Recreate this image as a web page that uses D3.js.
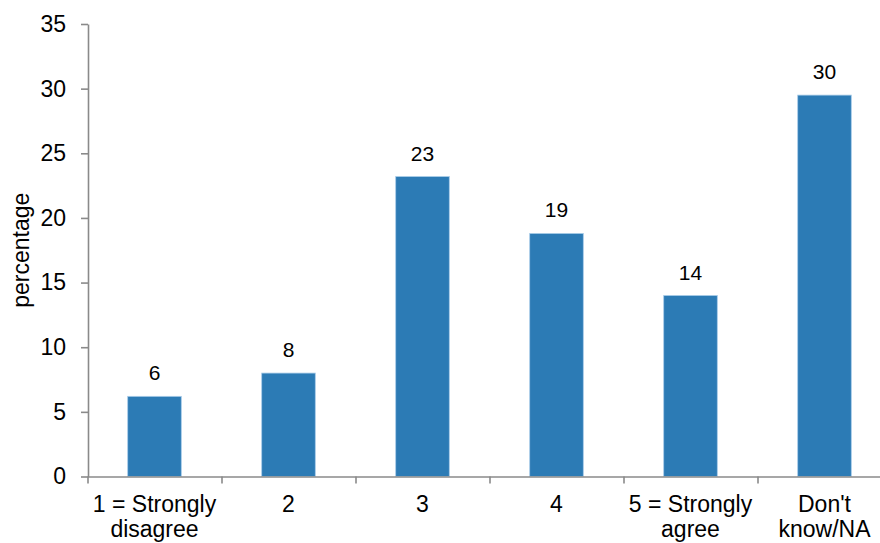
<!DOCTYPE html>
<html>
<head>
<meta charset="utf-8">
<script src="https://cdn.jsdelivr.net/npm/d3@7/dist/d3.min.js"></script>
<style>
  html, body { margin: 0; padding: 0; background: #ffffff; }
  svg { display: block; font-family: "Liberation Sans", Arial, sans-serif; }
</style>
</head>
<body>
<svg id="chart" width="880" height="543"></svg>
<script>
// Survey responses (percentage of respondents)
const categories = ["1 = Strongly\ndisagree", "2", "3", "4", "5 = Strongly\nagree", "Don't\nknow/NA"];
const values = [6.2, 8.0, 23.2, 18.8, 14.0, 29.5];
const yTicks = [0, 5, 10, 15, 20, 25, 30, 35];
const yTitle = "percentage";

const svg = d3.select("#chart");
const left = 87.5, step = 134;
const yBottom = 476.5, yTop = 24;

const x = d3.scaleBand()
  .domain(d3.range(categories.length))
  .range([left, left + step * categories.length])
  .padding(0);

// boundary scale used for the category separator ticks
const xEdge = d3.scaleLinear()
  .domain([0, categories.length])
  .range([left, left + step * categories.length]);

const y = d3.scaleLinear().domain([0, 35]).range([yBottom, yTop]);

const axisColor = "#8a8a8a";
const barFill = "#2c7bb5";
const barEdge = "#a9cce8";

// Bars
const barW = x.bandwidth() * 0.4;
svg.append("g").selectAll("rect")
  .data(values)
  .join("rect")
  .attr("x", (d, i) => x(i) + (x.bandwidth() - barW) / 2)
  .attr("y", d => y(d))
  .attr("width", barW)
  .attr("height", d => y(0) - y(d))
  .attr("fill", barFill)
  .attr("stroke", barEdge)
  .attr("stroke-width", 0.8);

// Value labels
svg.append("g").selectAll("text")
  .data(values)
  .join("text")
  .attr("x", (d, i) => x(i) + x.bandwidth() / 2)
  .attr("y", d => y(d) - 16)
  .attr("text-anchor", "middle")
  .attr("font-size", 21)
  .attr("fill", "#000")
  .text(d => d3.format(".0f")(d));

// Y axis
const yAxis = svg.append("g")
  .attr("transform", `translate(${left + 0.5},0)`)
  .call(d3.axisLeft(y).tickValues(yTicks).tickSize(7).tickPadding(15).tickSizeOuter(0));
yAxis.select(".domain").attr("stroke", axisColor).attr("stroke-width", 1.6);
yAxis.selectAll(".tick line").attr("stroke", axisColor).attr("stroke-width", 1.6);
yAxis.selectAll(".tick text")
  .attr("font-size", 23)
  .attr("fill", "#000")
  .attr("font-family", "Liberation Sans, Arial, sans-serif");

// X axis with separator ticks at category boundaries
const xAxis = svg.append("g")
  .attr("transform", `translate(0,${yBottom})`)
  .call(d3.axisBottom(xEdge).tickValues(d3.range(categories.length + 1)).tickSize(7).tickFormat("").tickSizeOuter(0));
xAxis.select(".domain").attr("stroke", axisColor).attr("stroke-width", 1.6);
xAxis.selectAll(".tick line").attr("stroke", axisColor).attr("stroke-width", 1.6);

// Category labels
const catG = svg.append("g").selectAll("text")
  .data(categories)
  .join("text")
  .attr("text-anchor", "middle")
  .attr("font-size", 23)
  .attr("fill", "#000");
catG.each(function (d, i) {
  const t = d3.select(this);
  d.split("\n").forEach((line, k) => {
    t.append("tspan")
      .attr("x", x(i) + x.bandwidth() / 2)
      .attr("y", 512 + k * 25)
      .text(line);
  });
});

// Y axis title
svg.append("text")
  .attr("transform", `translate(29,${(yTop + yBottom) / 2}) rotate(-90)`)
  .attr("text-anchor", "middle")
  .attr("font-size", 23)
  .attr("fill", "#000")
  .text(yTitle);
</script>
</body>
</html>
